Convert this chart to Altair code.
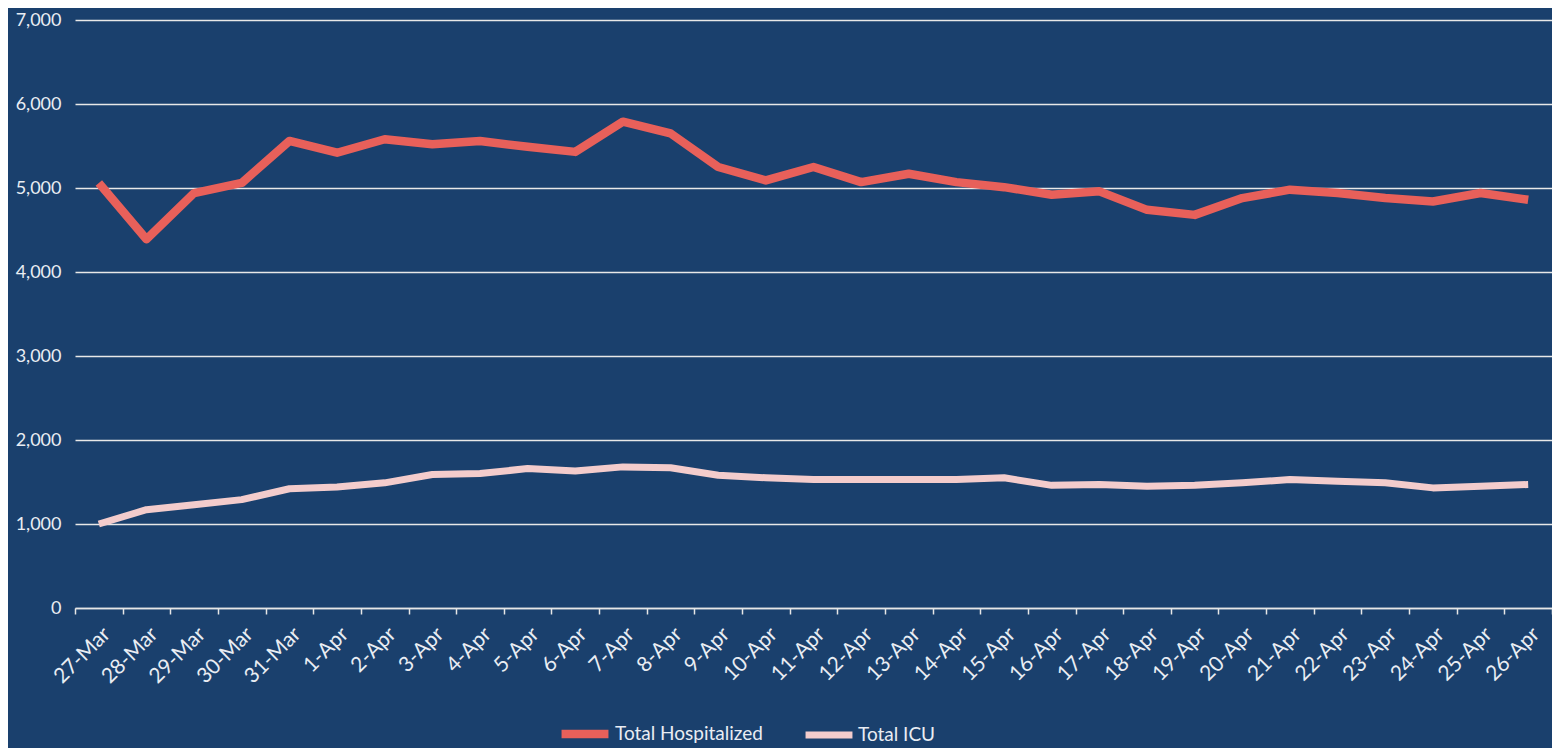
import altair as alt
import pandas as pd

dates = ["27-Mar", "28-Mar", "29-Mar", "30-Mar", "31-Mar", "1-Apr", "2-Apr", "3-Apr",
         "4-Apr", "5-Apr", "6-Apr", "7-Apr", "8-Apr", "9-Apr", "10-Apr", "11-Apr",
         "12-Apr", "13-Apr", "14-Apr", "15-Apr", "16-Apr", "17-Apr", "18-Apr", "19-Apr",
         "20-Apr", "21-Apr", "22-Apr", "23-Apr", "24-Apr", "25-Apr", "26-Apr"]

hospitalized = [5060, 4390, 4940, 5060, 5560, 5420, 5580, 5520, 5560, 5490, 5430,
                5790, 5650, 5250, 5090, 5250, 5070, 5170, 5070, 5010, 4920, 4960,
                4740, 4680, 4880, 4980, 4940, 4880, 4840, 4940, 4860]

icu = [1000, 1170, 1230, 1290, 1420, 1440, 1490, 1590, 1600, 1660, 1630, 1680, 1670,
       1580, 1550, 1530, 1530, 1530, 1530, 1550, 1460, 1470, 1450, 1460, 1490, 1530,
       1510, 1490, 1430, 1450, 1470]

series_names = ["Total Hospitalized", "Total ICU"]
series_colors = ["#e8605a", "#f3cccc"]

rows = []
for d, h, i in zip(dates, hospitalized, icu):
    rows.append({"date": d, "series": series_names[0], "value": h})
    rows.append({"date": d, "series": series_names[1], "value": i})
df = pd.DataFrame(rows)

FONT = "Lato"
LABEL = "#e9edf3"

chart = alt.Chart(df).mark_line(strokeJoin="round").encode(
    x=alt.X(
        "date:N",
        sort=dates,
        bandPosition=0.5,
        scale=alt.Scale(type="band", paddingInner=0, paddingOuter=0),
        axis=alt.Axis(
            title=None,
            labelAngle=-45,
            labelAlign="right",
            labelBaseline="top",
            labelFontSize=21,
            labelFont=FONT,
            labelColor=LABEL,
            labelPadding=9,
            tickBand="extent",
            ticks=True,
            tickSize=6,
            tickColor="#e6e6e6",
            tickWidth=1.5,
            domainColor="#e6e6e6",
            domainWidth=1.5,
            grid=False,
        ),
    ),
    y=alt.Y(
        "value:Q",
        scale=alt.Scale(domain=[0, 7000]),
        axis=alt.Axis(
            title=None,
            values=[0, 1000, 2000, 3000, 4000, 5000, 6000, 7000],
            format=",d",
            labelFontSize=18,
            labelFont=FONT,
            labelColor=LABEL,
            labelPadding=14,
            domain=False,
            ticks=False,
            grid=True,
            gridColor="#e8e8e8",
            gridWidth=1.5,
        ),
    ),
    color=alt.Color(
        "series:N",
        scale=alt.Scale(domain=series_names, range=series_colors),
        legend=alt.Legend(
            title=None,
            orient="none",
            direction="horizontal",
            legendX=482,
            legendY=686,
            symbolType="stroke",
            symbolSize=2200,
            symbolStrokeWidth=6,
            labelFontSize=19,
            labelFont=FONT,
            labelColor=LABEL,
            labelOffset=2,
            columnPadding=28,
        ),
    ),
    strokeWidth=alt.StrokeWidth(
        "series:N",
        scale=alt.Scale(domain=series_names, range=[8.5, 7]),
        legend=None,
    ),
).properties(
    width=1477,
    height=588,
    background="#1a406d",
    padding={"left": 67, "top": 12, "right": 0, "bottom": 140},
    autosize=alt.AutoSizeParams(type="none"),
).configure_view(stroke=None)

chart.save("out.html", embed_options={"renderer": "svg", "actions": False})
